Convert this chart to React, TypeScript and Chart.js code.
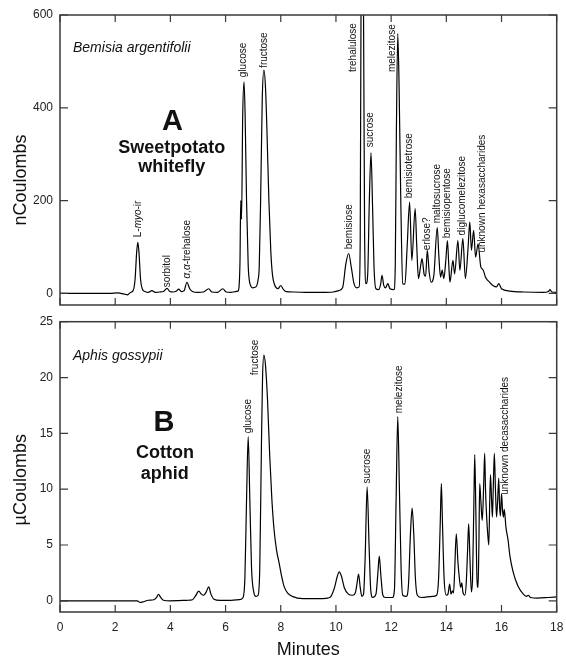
import React, { useEffect, useRef } from 'react';
import { Chart, registerables } from 'chart.js';
Chart.register(...registerables);

const FONT = '"Liberation Sans", Arial, Helvetica, sans-serif';

const xTickValues = [0, 2, 4, 6, 8, 10, 12, 14, 16, 18];
const yTicksA = [0, 200, 400, 600];
const yTicksB = [0, 5, 10, 15, 20, 25];

// Panel A – Bemisia argentifolii (nCoulombs)
const timeA = [0, 1.8, 2.1, 2.3, 2.45, 2.55, 2.65, 2.72, 2.78, 2.82, 2.86, 2.92, 2.98, 3.08, 3.2, 3.33, 3.45, 3.6, 3.75, 3.88, 3.98, 4.1, 4.22, 4.3, 4.4, 4.5, 4.6, 4.7, 4.8, 5.0, 5.2, 5.39, 5.5, 5.7, 5.9, 6.02, 6.2, 6.35, 6.45, 6.52, 6.55, 6.58, 6.62, 6.67, 6.71, 6.76, 6.82, 6.88, 6.98, 7.1, 7.18, 7.22, 7.27, 7.33, 7.39, 7.45, 7.5, 7.57, 7.64, 7.7, 7.78, 7.9, 8.0, 8.1, 8.2, 8.5, 9.0, 9.5, 9.9, 10.1, 10.24, 10.36, 10.46, 10.56, 10.65, 10.75, 10.84, 10.88, 10.92, 10.96, 11.0, 11.04, 11.09, 11.15, 11.21, 11.27, 11.33, 11.38, 11.45, 11.55, 11.62, 11.67, 11.73, 11.8, 11.88, 11.96, 12.1, 12.15, 12.19, 12.24, 12.29, 12.35, 12.42, 12.5, 12.58, 12.67, 12.75, 12.87, 12.93, 12.99, 13.07, 13.12, 13.2, 13.25, 13.31, 13.38, 13.45, 13.55, 13.67, 13.73, 13.79, 13.85, 13.91, 13.98, 14.04, 14.09, 14.13, 14.24, 14.3, 14.42, 14.49, 14.6, 14.69, 14.79, 14.85, 14.91, 14.99, 15.06, 15.15, 15.25, 15.33, 15.42, 15.57, 15.69, 15.82, 15.9, 16.0, 16.3, 16.8, 17.5, 17.7, 17.76, 17.82, 18];
const signalA = [0, 0, 1, -1, -3, 2, 6, 30, 90, 110, 90, 30, 10, 4, 2, 6, 2, 3, 4, 11, 4, 3, 5, 9, 4, 6, 24, 10, 4, 2, 3, 10, 3, 2, 10, 3, 2, 4, 5, 60, 200, 160, 380, 456, 380, 200, 60, 22, 12, 14, 30, 57, 200, 420, 481, 440, 350, 200, 90, 40, 18, 10, 17, 8, 4, 3, 2, 2, 3, 6, 12, 64, 86, 55, 22, 12, 14, 120, 800, 900, 600, 120, 21, 40, 200, 303, 180, 57, 10, 8, 20, 39, 18, 12, 21, 10, 8, 60, 345, 560, 440, 200, 21, 20, 100, 197, 71, 183, 100, 32, 60, 75, 40, 37, 93, 45, 24, 40, 142, 80, 35, 50, 32, 70, 114, 60, 24, 71, 42, 114, 50, 118, 32, 100, 154, 93, 136, 78, 107, 57, 51, 35, 24, 17, 14, 21, 10, 5, 3, 2, 4, 8, 3, 2];

// Panel B – Aphis gossypii (µCoulombs)
const timeB = [0, 2.8, 2.9, 3.0, 3.2, 3.4, 3.5, 3.57, 3.65, 3.75, 4.0, 4.3, 4.6, 4.8, 4.9, 5.03, 5.12, 5.21, 5.3, 5.39, 5.47, 5.58, 5.8, 6.2, 6.5, 6.62, 6.7, 6.76, 6.82, 6.88, 6.94, 7.02, 7.1, 7.18, 7.24, 7.3, 7.34, 7.39, 7.45, 7.52, 7.6, 7.68, 7.76, 7.85, 7.94, 8.04, 8.12, 8.25, 8.42, 8.8, 9.3, 9.7, 9.82, 9.95, 10.05, 10.12, 10.2, 10.3, 10.45, 10.6, 10.7, 10.76, 10.82, 10.88, 10.94, 11.0, 11.06, 11.13, 11.2, 11.26, 11.33, 11.45, 11.52, 11.57, 11.63, 11.7, 11.79, 12.05, 12.12, 12.18, 12.24, 12.3, 12.36, 12.42, 12.55, 12.63, 12.7, 12.76, 12.82, 12.88, 12.95, 13.1, 13.5, 13.65, 13.72, 13.78, 13.82, 13.86, 13.92, 14.0, 14.06, 14.12, 14.17, 14.22, 14.26, 14.3, 14.36, 14.42, 14.48, 14.52, 14.56, 14.6, 14.67, 14.72, 14.77, 14.81, 14.86, 14.91, 14.95, 15.0, 15.03, 15.07, 15.11, 15.15, 15.18, 15.21, 15.25, 15.3, 15.33, 15.36, 15.39, 15.42, 15.45, 15.5, 15.54, 15.57, 15.6, 15.64, 15.67, 15.7, 15.74, 15.78, 15.82, 15.86, 15.9, 15.93, 15.96, 16.0, 16.04, 16.07, 16.1, 16.16, 16.24, 16.3, 16.42, 16.6, 16.79, 16.9, 16.97, 17.05, 17.3, 17.7, 18];
const signalB = [0, 0, -0.15, -0.1, 0.05, 0.1, 0.3, 0.57, 0.3, 0.05, 0, 0.02, 0.05, 0.1, 0.4, 0.87, 0.6, 0.5, 0.8, 1.25, 0.6, 0.15, 0.05, 0.05, 0.1, 0.25, 2, 9, 14.7, 9, 3, 0.8, 0.4, 0.5, 3, 14, 20, 22, 21, 18, 13, 9, 6.3, 4.5, 3.4, 2.1, 1.3, 0.7, 0.4, 0.2, 0.2, 0.25, 0.4, 1.2, 2.2, 2.6, 2.2, 1.2, 0.6, 0.5, 0.7, 1.5, 2.4, 1.2, 0.4, 0.6, 4, 10.2, 5, 1, 0.3, 0.6, 2.5, 4.0, 2.2, 0.5, 0.3, 0.3, 1, 9, 16.5, 10, 3, 0.5, 0.4, 1.5, 6, 8.3, 6, 2, 0.5, 0.3, 0.4, 0.5, 2, 7, 10.5, 7, 2, 0.5, 0.6, 1.5, 0.6, 0.9, 0.7, 2.5, 6.0, 3.5, 1.85, 1.2, 1.6, 0.8, 0.5, 1.5, 4.5, 6.9, 3.5, 0.8, 2, 9, 13.1, 8, 2, 1.2, 5, 10.5, 9, 7.2, 8.5, 11, 13.2, 10, 8.1, 6, 5.0, 8.5, 11.3, 9, 7.5, 10, 13.2, 10, 7.5, 9, 11, 8.5, 7.6, 9.6, 8, 7.5, 8.2, 6.6, 5.4, 4.1, 2.6, 1.3, 0.6, 0.4, 0.5, 0.3, 0.25, 0.3, 0.35];

// Peak labels (text starts at [time, level]); *...* marks italic
const peakNamesA = ['L-*myo*-ir', 'sorbitol', '*α,α*-trehalose', 'glucose', 'fructose', 'bemisiose', 'trehalulose', 'sucrose', 'melezitose', 'bemisiotetrose', 'erlose?', 'maltosucrose', 'bemisiopentose', 'diglucomelezitose', 'unknown hexasaccharides'];
const peakTimesA = [2.85, 3.88, 4.6, 6.64, 7.39, 10.48, 10.64, 11.25, 12.04, 12.67, 13.3, 13.67, 14.03, 14.59, 15.3];
const peakLevelsA = [121, 13, 32, 466, 486, 95, 477, 315, 477, 205, 93, 151, 119, 125, 88];

const peakNamesB = ['glucose', 'fructose', 'sucrose', 'melezitose', 'unknown decasaccharides'];
const peakTimesB = [6.82, 7.07, 11.15, 12.28, 16.12];
const peakLevelsB = [15.0, 20.2, 10.5, 16.8, 9.5];

type PanelCfg = {
  yTicks: number[];
  yTitle: string;
  yTitleDy: number;
  species: string;
  speciesDy: number;
  letter: string;
  letterPos: [number, number];
  lines: string[];
  linePos: [number, number][];
  names: string[];
  times: number[];
  levels: number[];
};

function drawRich(ctx: CanvasRenderingContext2D, text: string, size: number) {
  const parts = text.split('*');
  let x = 0;
  parts.forEach((p, i) => {
    if (!p) return;
    ctx.font = `${i % 2 ? 'italic ' : ''}${size}px ${FONT}`;
    ctx.fillText(p, x, 0);
    x += ctx.measureText(p).width;
  });
}

function makePlugin(cfg: PanelCfg) {
  return {
    id: 'panelDecor',
    afterDraw(chart: any) {
      const { ctx, chartArea: a, scales } = chart;
      const xs = scales.x, ys = scales.y;
      ctx.save();
      // frame
      ctx.strokeStyle = '#3a3a3a';
      ctx.lineWidth = 1.5;
      ctx.strokeRect(a.left, a.top, a.right - a.left, a.bottom - a.top);
      // inward ticks
      ctx.lineWidth = 1.2;
      ctx.beginPath();
      for (const v of xTickValues) {
        const px = xs.getPixelForValue(v);
        ctx.moveTo(px, a.top); ctx.lineTo(px, a.top + 7);
        ctx.moveTo(px, a.bottom); ctx.lineTo(px, a.bottom - 7);
      }
      for (const v of cfg.yTicks) {
        const py = ys.getPixelForValue(v);
        ctx.moveTo(a.left, py); ctx.lineTo(a.left + 8, py);
        ctx.moveTo(a.right, py); ctx.lineTo(a.right - 8, py);
      }
      ctx.stroke();

      ctx.fillStyle = '#111';
      // y title
      ctx.save();
      ctx.translate(21, a.top + cfg.yTitleDy);
      ctx.rotate(-Math.PI / 2);
      ctx.textAlign = 'center';
      ctx.textBaseline = 'middle';
      ctx.font = `18px ${FONT}`;
      ctx.fillText(cfg.yTitle, 0, 0);
      ctx.restore();

      // species
      ctx.textAlign = 'left';
      ctx.textBaseline = 'middle';
      ctx.font = `italic 14px ${FONT}`;
      ctx.fillText(cfg.species, a.left + 13, a.top + cfg.speciesDy);

      // panel letter and caption
      ctx.textAlign = 'center';
      ctx.font = `bold 29px ${FONT}`;
      ctx.fillText(cfg.letter, a.left + cfg.letterPos[0], a.top + cfg.letterPos[1]);
      ctx.font = `bold 18px ${FONT}`;
      cfg.lines.forEach((t, i) => {
        ctx.fillText(t, a.left + cfg.linePos[i][0], a.top + cfg.linePos[i][1]);
      });

      // peak labels
      ctx.textAlign = 'left';
      ctx.textBaseline = 'middle';
      cfg.names.forEach((name, i) => {
        const px = xs.getPixelForValue(cfg.times[i]);
        const py = ys.getPixelForValue(cfg.levels[i]);
        ctx.save();
        ctx.translate(px, py);
        ctx.rotate(-Math.PI / 2);
        drawRich(ctx, name, 10);
        ctx.restore();
      });
      ctx.restore();
    },
  };
}

function buildChart(canvas: HTMLCanvasElement, times: number[], values: number[], yMin: number, yMax: number, cfg: PanelCfg, showX: boolean, padding: any) {
  const data = times.map((t, i) => ({ x: t, y: values[i] }));
  return new Chart(canvas, {
    type: 'line',
    data: {
      datasets: [{
        data,
        borderColor: '#000',
        borderWidth: 1.2,
        pointRadius: 0,
        fill: false,
        cubicInterpolationMode: 'monotone',
      }],
    },
    options: {
      responsive: false,
      animation: false,
      devicePixelRatio: 1,
      layout: { padding },
      plugins: { legend: { display: false }, tooltip: { enabled: false } },
      scales: {
        x: {
          type: 'linear',
          min: 0,
          max: 18,
          display: showX,
          afterBuildTicks: (s: any) => { s.ticks = xTickValues.map((v) => ({ value: v })); },
          afterFit: (s: any) => { s.height = showX ? 50 : 0; },
          grid: { display: false, drawTicks: true, tickLength: 8 },
          border: { display: false },
          ticks: { color: '#222', font: { size: 12, family: FONT }, padding: 0, maxRotation: 0, autoSkip: false },
          title: { display: true, text: 'Minutes', color: '#111', font: { size: 18, family: FONT }, padding: { top: 0, bottom: 1 } },
        },
        y: {
          type: 'linear',
          min: yMin,
          max: yMax,
          afterBuildTicks: (s: any) => { s.ticks = cfg.yTicks.map((v) => ({ value: v })); },
          afterFit: (s: any) => { s.width = 60; },
          grid: { display: false, drawTicks: false, tickLength: 0 },
          border: { display: false },
          ticks: { color: '#222', font: { size: 12, family: FONT }, padding: 7 },
        },
      },
    } as any,
    plugins: [makePlugin(cfg)],
  });
}

const cfgA: PanelCfg = {
  yTicks: yTicksA,
  yTitle: 'nCoulombs',
  yTitleDy: 165,
  species: 'Bemisia argentifolii',
  speciesDy: 33,
  letter: 'A',
  letterPos: [112.5, 107],
  lines: ['Sweetpotato', 'whitefly'],
  linePos: [[111.7, 133], [111.7, 152.5]],
  names: peakNamesA,
  times: peakTimesA,
  levels: peakLevelsA,
};

const cfgB: PanelCfg = {
  yTicks: yTicksB,
  yTitle: 'µCoulombs',
  yTitleDy: 158,
  species: 'Aphis gossypii',
  speciesDy: 34.5,
  letter: 'B',
  letterPos: [104, 101],
  lines: ['Cotton', 'aphid'],
  linePos: [[105, 131.5], [104.7, 152.3]],
  names: peakNamesB,
  times: peakTimesB,
  levels: peakLevelsB,
};

export default function App() {
  const refA = useRef<HTMLCanvasElement>(null);
  const refB = useRef<HTMLCanvasElement>(null);

  useEffect(() => {
    Chart.defaults.font.family = FONT;
    const a = buildChart(refA.current!, timeA, signalA, -25, 600, cfgA, false, { left: 0, right: 9.3, top: 15, bottom: 15 });
    const b = buildChart(refB.current!, timeB, signalB, -1, 25, cfgB, true, { left: 0, right: 9.3, top: 15.7, bottom: 0 });
    return () => { a.destroy(); b.destroy(); };
  }, []);

  return (
    <div style={{ position: 'fixed', left: 0, top: 0, width: 566, height: 662, background: '#fff' }}>
      <canvas ref={refA} width={566} height={320} style={{ position: 'absolute', left: 0, top: 0, width: 566, height: 320 }} />
      <canvas ref={refB} width={566} height={356} style={{ position: 'absolute', left: 0, top: 306, width: 566, height: 356 }} />
    </div>
  );
}
